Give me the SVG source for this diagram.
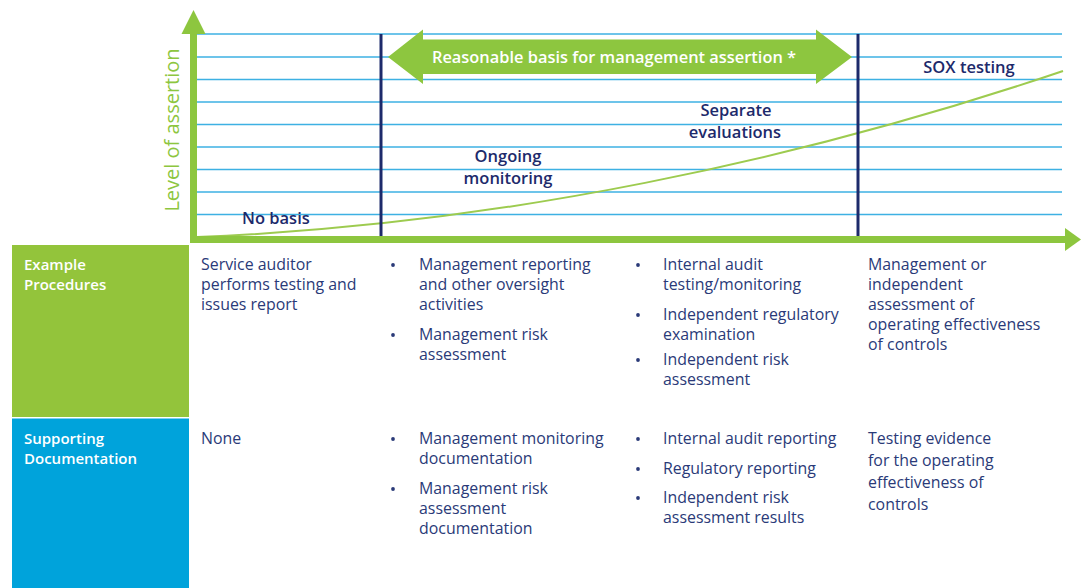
<svg xmlns="http://www.w3.org/2000/svg" width="1081" height="588" viewBox="0 0 1081 588">
<defs>
<style>
.grid{stroke:#3db1e3;stroke-width:1.5}
.nav{stroke:#1d2a6b;stroke-width:3}
.lbl{font-family:"Open Sans","Liberation Sans",sans-serif;font-weight:600;font-size:16.5px;fill:#1d2a6b}
.body{font-family:"Open Sans","Liberation Sans",sans-serif;font-weight:400;font-size:15.9px;fill:#2a3a78}
.hdr{font-family:"Open Sans","Liberation Sans",sans-serif;font-weight:600;font-size:15px;fill:#ffffff}
.bul{fill:#2a3a78}
</style>
</defs>
<rect width="1081" height="588" fill="#ffffff"/>
<g id="grid">
<line class="grid" x1="197" y1="34" x2="1062" y2="34"/>
<line class="grid" x1="197" y1="57" x2="1062" y2="57"/>
<line class="grid" x1="197" y1="79.5" x2="1062" y2="79.5"/>
<line class="grid" x1="197" y1="102" x2="1062" y2="102"/>
<line class="grid" x1="197" y1="124.5" x2="1062" y2="124.5"/>
<line class="grid" x1="197" y1="147" x2="1062" y2="147"/>
<line class="grid" x1="197" y1="169.5" x2="1062" y2="169.5"/>
<line class="grid" x1="197" y1="192" x2="1062" y2="192"/>
<line class="grid" x1="197" y1="214.5" x2="1062" y2="214.5"/>
</g>
<g id="connectors">
<path d="M197,237 C500,225 800,160 1063,71" fill="none" stroke="#9dcb4f" stroke-width="2"/>
<line class="nav" x1="381" y1="34" x2="381" y2="240"/>
<line class="nav" x1="858" y1="34" x2="858" y2="240"/>
</g>
<g id="axes">
<rect x="190" y="33" width="7" height="210" fill="#8dc63f"/>
<polygon points="193.5,10 181.5,34 205.5,34" fill="#8dc63f"/>
<rect x="190" y="236" width="876" height="7" fill="#8dc63f"/>
<polygon points="1065,228 1081,239.5 1065,251" fill="#8dc63f"/>
<text transform="rotate(-90 172 130)" x="172" y="136.5" text-anchor="middle" font-family="Open Sans, Liberation Sans, sans-serif" font-size="20" fill="#8dc63f">Level of assertion</text>
</g>
<g id="reasonable-basis">
<polygon points="388,57 423,29.5 423,39.5 816,39.5 816,29.5 852,57 816,84 816,74 423,74 423,84" fill="#8dc63f"/>
<text x="614" y="63" text-anchor="middle" font-family="Open Sans, Liberation Sans, sans-serif" font-weight="600" font-size="16.4" fill="#ffffff">Reasonable basis for management assertion *</text>
</g>
<g id="no-basis"><text class="lbl" x="242" y="224">No basis</text></g>
<g id="ongoing"><text class="lbl" x="508" text-anchor="middle" y="162">Ongoing</text><text class="lbl" x="508" text-anchor="middle" y="184">monitoring</text></g>
<g id="separate"><text class="lbl" x="736" text-anchor="middle" y="116">Separate</text><text class="lbl" x="735" text-anchor="middle" y="138">evaluations</text></g>
<g id="sox"><text class="lbl" x="969" text-anchor="middle" y="73">SOX testing</text></g>
<g id="example-procedures">
<rect x="12" y="245" width="177" height="172" fill="#93c43b"/>
<text class="hdr" x="24" y="270">Example</text>
<text class="hdr" x="24" y="290">Procedures</text>
</g>
<g id="supporting-documentation">
<rect x="12" y="418.5" width="177" height="170" fill="#00a3db"/>
<text class="hdr" x="24" y="444">Supporting</text>
<text class="hdr" x="24" y="464">Documentation</text>
</g>
<g id="col-no-basis">
<text class="body" x="201" y="270">Service auditor</text>
<text class="body" x="201" y="290">performs testing and</text>
<text class="body" x="201" y="310">issues report</text>
<text class="body" x="201" y="444">None</text>
</g>
<g id="col-ongoing">
<circle class="bul" cx="393" cy="265" r="1.9"/>
<text class="body" x="419" y="270">Management reporting</text>
<text class="body" x="419" y="290">and other oversight</text>
<text class="body" x="419" y="310">activities</text>
<circle class="bul" cx="393" cy="335" r="1.9"/>
<text class="body" x="419" y="340">Management risk</text>
<text class="body" x="419" y="360">assessment</text>
<circle class="bul" cx="393" cy="439" r="1.9"/>
<text class="body" x="419" y="444">Management monitoring</text>
<text class="body" x="419" y="464">documentation</text>
<circle class="bul" cx="393" cy="489" r="1.9"/>
<text class="body" x="419" y="494">Management risk</text>
<text class="body" x="419" y="514">assessment</text>
<text class="body" x="419" y="534">documentation</text>
</g>
<g id="col-separate">
<circle class="bul" cx="638" cy="265" r="1.9"/>
<text class="body" x="663" y="270">Internal audit</text>
<text class="body" x="663" y="290">testing/monitoring</text>
<circle class="bul" cx="638" cy="315" r="1.9"/>
<text class="body" x="663" y="320">Independent regulatory</text>
<text class="body" x="663" y="340">examination</text>
<circle class="bul" cx="638" cy="360" r="1.9"/>
<text class="body" x="663" y="365">Independent risk</text>
<text class="body" x="663" y="385">assessment</text>
<circle class="bul" cx="638" cy="439" r="1.9"/>
<text class="body" x="663" y="444">Internal audit reporting</text>
<circle class="bul" cx="638" cy="469" r="1.9"/>
<text class="body" x="663" y="474">Regulatory reporting</text>
<circle class="bul" cx="638" cy="498" r="1.9"/>
<text class="body" x="663" y="503">Independent risk</text>
<text class="body" x="663" y="523">assessment results</text>
</g>
<g id="col-sox">
<text class="body" x="868" y="270">Management or</text>
<text class="body" x="868" y="290">independent</text>
<text class="body" x="868" y="310">assessment of</text>
<text class="body" x="868" y="330">operating effectiveness</text>
<text class="body" x="868" y="350">of controls</text>
<text class="body" x="868" y="444">Testing evidence</text>
<text class="body" x="868" y="466">for the operating</text>
<text class="body" x="868" y="488">effectiveness of</text>
<text class="body" x="868" y="510">controls</text>
</g>
</svg>
